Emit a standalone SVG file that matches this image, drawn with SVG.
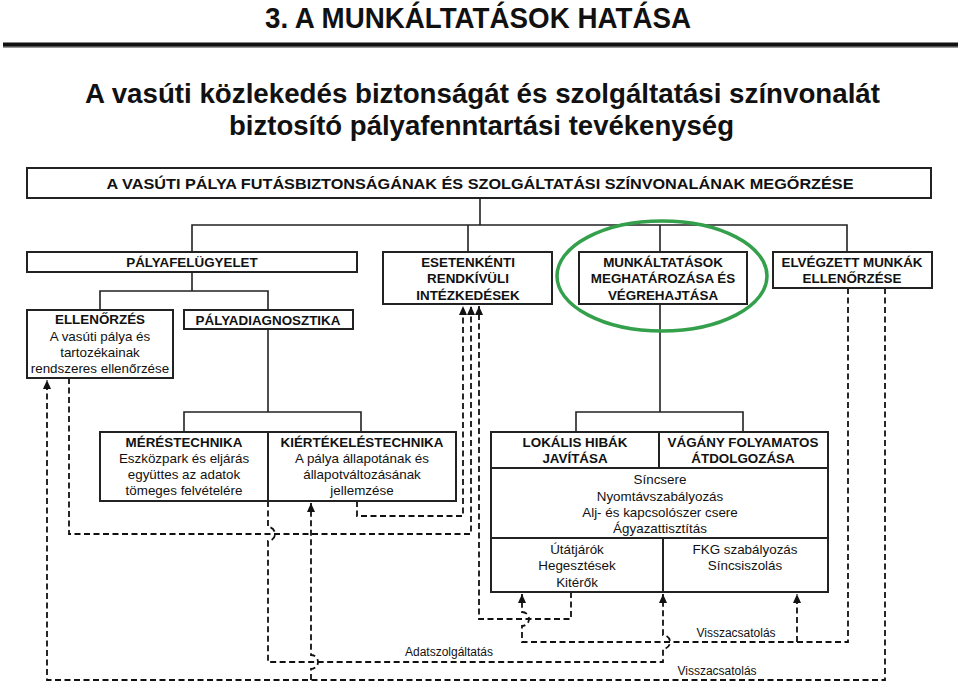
<svg xmlns="http://www.w3.org/2000/svg" width="960" height="682" viewBox="0 0 960 682">
<defs>
<style>
text{font-family:"Liberation Sans",Arial,sans-serif;fill:#111;text-anchor:middle}
.b{font-weight:bold;font-size:13.4px}
.r{font-size:13.4px}
.lbl{font-size:12px}
.box{fill:#fff;stroke:#222;stroke-width:2}
.ln{fill:none;stroke:#222;stroke-width:1.6}
.dl{fill:none;stroke:#111;stroke-width:1.8;stroke-dasharray:6 3.5}
</style>
<marker id="ah" markerUnits="userSpaceOnUse" markerWidth="10" markerHeight="8" refX="9" refY="4" orient="auto">
<path d="M0,0 L9,4 L0,8 z" fill="#111"/>
</marker>
</defs>
<rect width="960" height="682" fill="#fff"/>
<g id="title">
<text x="478" y="28" font-size="30" font-weight="bold" textLength="426" lengthAdjust="spacingAndGlyphs">3. A MUNKÁLTATÁSOK HATÁSA</text>
<rect x="3" y="46" width="955" height="2" fill="#999"/>
<rect x="3" y="42.5" width="955" height="4" fill="#111"/>
<text x="482.5" y="103" font-size="27" font-weight="bold" textLength="795" lengthAdjust="spacingAndGlyphs">A vasúti közlekedés biztonságát és szolgáltatási színvonalát</text>
<text x="481.5" y="135" font-size="27" font-weight="bold" textLength="505" lengthAdjust="spacingAndGlyphs">biztosító pályafenntartási tevékenység</text>
</g>
<g id="connectors">
<path class="ln" d="M480,198 V225 M192,252 V225 H847 V252 M468,225 V252 M660,225 V252"/>
<path class="ln" d="M192,272 V291 M100,310 V291 H268 V310"/>
<path class="ln" d="M268,329 V412 M184,432 V412 H361 V432"/>
<path class="ln" d="M660,304 V412 M576,432 V412 H743 V432"/>
<path class="dl" d="M885,288 V680 H47 V380" marker-end="url(#ah)"/>
<path class="dl" d="M311,680 V669 A7 7 0 0 0 311 655 V503" marker-end="url(#ah)"/>
<path class="dl" d="M69,378 V534 H471 V306" marker-end="url(#ah)"/>
<path class="dl" d="M357,501 V516 H463 V306" marker-end="url(#ah)"/>
<path class="dl" d="M268,501 V527 A7 7 0 0 1 268 541 V662 H663 V649 A7 7 0 0 0 663 635 V594" marker-end="url(#ah)"/>
<path class="dl" d="M571,592 V619 H479 V306" marker-end="url(#ah)"/>
<path class="dl" d="M848,288 V642 H522 V626 A7 7 0 0 0 522 612 V594" marker-end="url(#ah)"/>
<path class="dl" d="M797,642 V594" marker-end="url(#ah)"/>
<text class="lbl" x="449" y="656">Adatszolgáltatás</text>
<text class="lbl" x="736" y="637">Visszacsatolás</text>
<text class="lbl" x="717" y="675">Visszacsatolás</text>
</g>
<g id="n-main">
<rect class="box" x="27" y="168" width="904" height="30"/>
<text x="480" y="188.5" font-size="15" font-weight="bold" textLength="747" lengthAdjust="spacingAndGlyphs">A VASÚTI PÁLYA FUTÁSBIZTONSÁGÁNAK ÉS SZOLGÁLTATÁSI SZÍNVONALÁNAK MEGŐRZÉSE</text>
</g>
<g id="n-palyafelugyelet">
<rect class="box" x="27" y="252" width="330" height="20"/>
<text class="b" x="192" y="267">PÁLYAFELÜGYELET</text>
</g>
<g id="n-esetenkenti">
<rect class="box" x="383" y="252" width="169" height="52"/>
<text class="b" x="468" y="267">ESETENKÉNTI</text>
<text class="b" x="468" y="283">RENDKÍVÜLI</text>
<text class="b" x="468" y="299.5">INTÉZKEDÉSEK</text>
</g>
<g id="n-munkaltatasok">
<rect class="box" x="579" y="252" width="168" height="52"/>
<text class="b" x="663" y="267">MUNKÁLTATÁSOK</text>
<text class="b" x="663" y="283">MEGHATÁROZÁSA ÉS</text>
<text class="b" x="663" y="299.5">VÉGREHAJTÁSA</text>
</g>
<g id="n-elvegzett">
<rect class="box" x="773" y="252" width="159" height="36"/>
<text class="b" x="852" y="267">ELVÉGZETT MUNKÁK</text>
<text class="b" x="852" y="283">ELLENŐRZÉSE</text>
</g>
<g id="n-ellenorzes">
<rect class="box" x="27" y="310" width="146" height="68"/>
<text class="b" x="100" y="324">ELLENŐRZÉS</text>
<text class="r" x="100" y="341">A vasúti pálya és</text>
<text class="r" x="100" y="357">tartozékainak</text>
<text class="r" x="100" y="373">rendszeres ellenőrzése</text>
</g>
<g id="n-palyadiagnosztika">
<rect class="box" x="184" y="310" width="169" height="19"/>
<text class="b" x="268" y="324.5">PÁLYADIAGNOSZTIKA</text>
</g>
<g id="n-merestechnika">
<rect class="box" x="100" y="432" width="168" height="69"/>
<text class="b" x="184" y="447">MÉRÉSTECHNIKA</text>
<text class="r" x="184" y="463">Eszközpark és eljárás</text>
<text class="r" x="184" y="479">együttes az adatok</text>
<text class="r" x="184" y="495">tömeges felvételére</text>
</g>
<g id="n-kiertekeles">
<rect class="box" x="268" y="432" width="188" height="69"/>
<text class="b" x="362" y="447">KIÉRTÉKELÉSTECHNIKA</text>
<text class="r" x="362" y="463">A pálya állapotának és</text>
<text class="r" x="362" y="479">állapotváltozásának</text>
<text class="r" x="362" y="495">jellemzése</text>
</g>
<g id="n-lokalis">
<rect class="box" x="491" y="432" width="168" height="36"/>
<text class="b" x="575" y="447">LOKÁLIS HIBÁK</text>
<text class="b" x="575" y="462.5">JAVÍTÁSA</text>
</g>
<g id="n-vagany">
<rect class="box" x="659" y="432" width="169" height="36"/>
<text class="b" x="743" y="447">VÁGÁNY FOLYAMATOS</text>
<text class="b" x="743" y="462.5">ÁTDOLGOZÁSA</text>
</g>
<g id="n-kozos">
<rect class="box" x="491" y="468" width="337" height="70"/>
<text class="r" x="660" y="484">Síncsere</text>
<text class="r" x="660" y="500.5">Nyomtávszabályozás</text>
<text class="r" x="660" y="517">Alj- és kapcsolószer csere</text>
<text class="r" x="660" y="533">Ágyazattisztítás</text>
</g>
<g id="n-lokalis-munkak">
<rect class="box" x="491" y="538" width="172" height="54"/>
<text class="r" x="577" y="554">Útátjárók</text>
<text class="r" x="577" y="570">Hegesztések</text>
<text class="r" x="577" y="587">Kitérők</text>
</g>
<g id="n-folyamatos-munkak">
<rect class="box" x="663" y="538" width="165" height="54"/>
<text class="r" x="745" y="554">FKG szabályozás</text>
<text class="r" x="745" y="570">Síncsiszolás</text>
</g>
<g id="highlight">
<ellipse cx="662" cy="276" rx="105" ry="55" fill="none" stroke="#34a04c" stroke-width="3.5"/>
</g>
</svg>
